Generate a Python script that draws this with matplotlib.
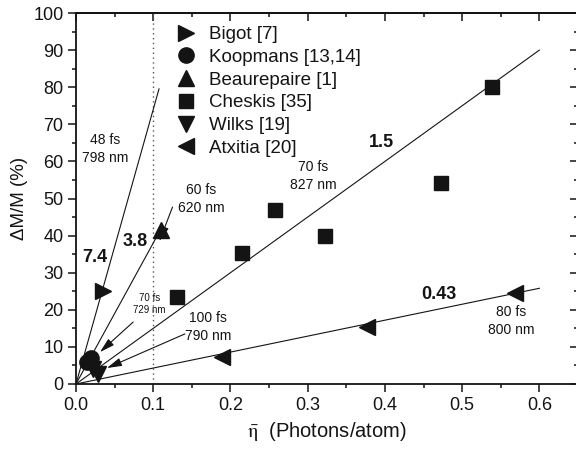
import matplotlib
matplotlib.use('Agg')
import matplotlib.pyplot as plt
from matplotlib.ticker import MultipleLocator

plt.rcParams['font.family'] = ['Liberation Sans', 'DejaVu Sans']
plt.rcParams['mathtext.fontset'] = 'stix'

# measured points, eta (photons/atom) vs dM/M (%)
bigot_x = [0.035]
bigot_y = [25.0]
koopmans_x = [0.014, 0.019]
koopmans_y = [6.0, 7.0]
beaurepaire_x = [0.11]
beaurepaire_y = [41.5]
cheskis_x = [0.131, 0.215, 0.258, 0.323, 0.473, 0.539]
cheskis_y = [23.5, 35.3, 47.0, 40.0, 54.2, 80.0]
wilks_x = [0.022, 0.028]
wilks_y = [4.0, 2.6]
atxitia_x = [0.189, 0.377, 0.568]
atxitia_y = [7.3, 15.4, 24.5]

# linear fits through the origin: slope label, slope (%/unit), x end
fit_labels = ['7.4', '3.8', '1.5', '0.43']
fit_slopes = [740, 380, 150, 43]
fit_xend = [0.1075, 0.11, 0.6, 0.6]

col = '#141414'
fig = plt.figure(figsize=(5.76, 4.5), dpi=100)
ax = fig.add_axes([76 / 576, 1 - 384 / 450, 502 / 576, 371 / 450])

ax.axvline(0.1, color='#555555', lw=1.0, ls=(0, (1, 2.5)))

for s, xe in zip(fit_slopes, fit_xend):
    ax.plot([0, xe], [0, s * xe], color=col, lw=0.8, zorder=2)

ms = 12
ax.plot(bigot_x, bigot_y, '>', color=col, ms=ms, ls='none', label='Bigot [7]', zorder=3)
ax.plot(koopmans_x, koopmans_y, 'o', color=col, ms=11, ls='none', label='Koopmans [13,14]', zorder=3)
ax.plot(beaurepaire_x, beaurepaire_y, '^', color=col, ms=ms, ls='none', label='Beaurepaire [1]', zorder=3)
ax.plot(cheskis_x, cheskis_y, 's', color=col, ms=9.5, ls='none', label='Cheskis [35]', zorder=3)
ax.plot(wilks_x, wilks_y, 'v', color=col, ms=ms, ls='none', label='Wilks [19]', zorder=3)
ax.plot(atxitia_x, atxitia_y, '<', color=col, ms=ms, ls='none', label='Atxitia [20]', zorder=3)

ax.legend(loc='upper left', bbox_to_anchor=(0.185, 0.985), frameon=False,
          fontsize=13.5, handlelength=1.0, handletextpad=0.75, labelspacing=0.3,
          borderaxespad=0, labelcolor=col)

# slope labels
bold = dict(fontsize=13, fontweight='bold', color=col, ha='center', va='center')
ax.text(0.025, 34.2, fit_labels[0], **bold)
ax.text(0.076, 38.3, fit_labels[1], **bold)
ax.text(0.396, 65.0, fit_labels[2], **bold)
ax.text(0.470, 24.0, fit_labels[3], **bold)

# pulse annotations
small = dict(fontsize=10, color=col, ha='center', va='center', linespacing=1.35)
ax.text(0.038, 63.4, '48 fs\n798 nm', **small)
ax.text(0.162, 49.8, '60 fs\n620 nm', **small)
ax.text(0.307, 56.0, '70 fs\n827 nm', **small)
ax.text(0.171, 15.4, '100 fs\n790 nm', **small)
ax.text(0.564, 17.0, '80 fs\n800 nm', **small)
ax.text(0.095, 21.6, '70 fs\n729 nm', fontsize=7, color=col, ha='center', va='center', linespacing=1.3)

arrow = dict(arrowstyle='-|>,head_length=0.9,head_width=0.25', color=col, lw=0.8,
             shrinkA=0, shrinkB=0, mutation_scale=10)
ax.annotate('', xy=(0.031, 8.6), xytext=(0.074, 16.7), arrowprops=arrow, zorder=2)
ax.annotate('', xy=(0.040, 4.3), xytext=(0.141, 13.5), arrowprops=arrow, zorder=2)
ax.annotate('', xy=(0.108, 38.5), xytext=(0.125, 47.7), arrowprops=arrow, zorder=2)

ax.set_xlim(0, 0.65)
ax.set_ylim(0, 100)
ax.xaxis.set_minor_locator(MultipleLocator(0.05))
ax.yaxis.set_major_locator(MultipleLocator(10))
ax.yaxis.set_minor_locator(MultipleLocator(5))
ax.set_xticks([0, 0.1, 0.2, 0.3, 0.4, 0.5, 0.6])
ax.set_xticklabels(['0.0', '0.1', '0.2', '0.3', '0.4', '0.5', '0.6'])

for sp in ax.spines.values():
    sp.set_linewidth(1.3)
    sp.set_color(col)

ax.tick_params(which='both', bottom=True, left=True, top=False, right=False,
               direction='out', colors=col, labelsize=13, width=1.1)
ax.tick_params(which='major', length=6, pad=3)
ax.tick_params(which='minor', length=3)

# inward ticks on the top and right edges
for side in ('top', 'right'):
    sec = ax.secondary_xaxis('top') if side == 'top' else ax.secondary_yaxis('right')
    axis = sec.xaxis if side == 'top' else sec.yaxis
    step = (0.1, 0.05) if side == 'top' else (10, 5)
    axis.set_major_locator(MultipleLocator(step[0]))
    axis.set_minor_locator(MultipleLocator(step[1]))
    sec.tick_params(which='both', direction='in', colors=col, width=1.1)
    sec.tick_params(which='major', length=6)
    sec.tick_params(which='minor', length=3)
    axis.set_ticklabels([])
    sec.spines[side].set_linewidth(1.3)

ax.set_xlabel(r'$\bar{\mathrm{\eta}}$  (Photons/atom)', fontsize=14.5, color=col, labelpad=5)
ax.set_ylabel('ΔM/M (%)', fontsize=13.5, color=col, labelpad=4)

fig.savefig('out.png', dpi=100)
